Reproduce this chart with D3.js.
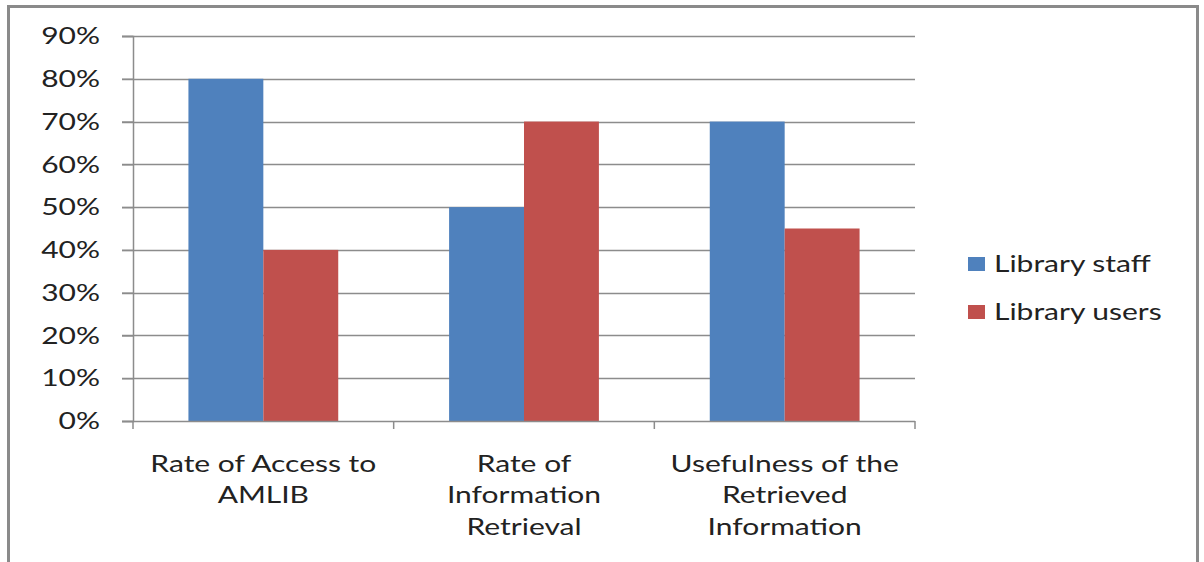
<!DOCTYPE html>
<html lang="en">
<head>
<meta charset="utf-8" />
<title>AMLIB chart</title>
<script src="https://cdn.jsdelivr.net/npm/d3@7/dist/d3.min.js"></script>
<style>
  body { margin: 0; background: #fff; }
</style>
</head>
<body>
<svg id="chart" width="1204" height="562"></svg>
<script>
// chart data
const categories = [
  ["Rate of Access to", "AMLIB"],
  ["Rate of", "Information", "Retrieval"],
  ["Usefulness of the", "Retrieved", "Information"]
];
const seriesNames = ["Library staff", "Library users"];
const staffValues = [0.80, 0.50, 0.70];
const userValues = [0.40, 0.70, 0.45];
const yTicks = [0, 0.1, 0.2, 0.3, 0.4, 0.5, 0.6, 0.7, 0.8, 0.9];

const colors = ["#4F81BD", "#C0504D"];
const font = "Lato, 'Open Sans', sans-serif";
const stretch = "scale(1.25,1)"; // the original text is drawn wide

const svg = d3.select("#chart").attr("font-family", font);

// outer frame
svg.append("rect")
  .attr("x", 8.5).attr("y", 6.5)
  .attr("width", 1189).attr("height", 570)
  .attr("fill", "#fff")
  .attr("stroke", "#8a8a8a")
  .attr("stroke-width", 3);

const margin = {top: 36, left: 133, right: 915, bottom: 421};

const y = d3.scaleLinear().domain([0, 0.9]).range([margin.bottom, margin.top]);
const x0 = d3.scaleBand()
  .domain(d3.range(categories.length))
  .range([margin.left, margin.right])
  .paddingInner(0).paddingOuter(0);
const x1 = d3.scaleBand()
  .domain([0, 1])
  .range([0, x0.bandwidth()])
  .paddingOuter(0.74).paddingInner(0);

// gridlines
svg.append("g")
  .selectAll("line")
  .data(yTicks.slice(1))
  .join("line")
    .attr("x1", margin.left - 11).attr("x2", margin.right)
    .attr("y1", d => Math.round(y(d)) + 0.5).attr("y2", d => Math.round(y(d)) + 0.5)
    .attr("stroke", "#8c8c8c").attr("stroke-width", 1.5);

// y axis
const yAxis = svg.append("g")
  .attr("transform", `translate(${margin.left},0)`)
  .call(d3.axisLeft(y).tickValues(yTicks).tickFormat(d3.format(".0%")).tickSize(11).tickPadding(22));
yAxis.select(".domain").attr("stroke", "#8c8c8c").attr("stroke-width", 1.5);
yAxis.selectAll(".tick line").attr("stroke", "#8c8c8c").attr("stroke-width", 1.5);
yAxis.selectAll(".tick text")
  .attr("x", 0)
  .attr("transform", `translate(-33,0) ${stretch}`)
  .attr("font-family", font).attr("font-size", "24px").attr("fill", "#222");

// bars
const rows = categories.map((c, i) => [staffValues[i], userValues[i]]);
const groups = svg.append("g")
  .selectAll("g")
  .data(rows)
  .join("g")
    .attr("transform", (d, i) => `translate(${x0(i)},0)`);
groups.selectAll("rect")
  .data(d => d)
  .join("rect")
    .attr("x", (d, j) => x1(j))
    .attr("y", d => y(d))
    .attr("width", x1.bandwidth())
    .attr("height", d => y(0) - y(d))
    .attr("fill", (d, j) => colors[j]);

// x axis
const xAxis = svg.append("g")
  .attr("transform", `translate(0,${margin.bottom})`);
xAxis.append("line")
  .attr("x1", margin.left - 11).attr("x2", margin.right)
  .attr("y1", 0.5).attr("y2", 0.5)
  .attr("stroke", "#8c8c8c").attr("stroke-width", 1.5);
xAxis.selectAll("line.tick")
  .data(d3.range(categories.length + 1))
  .join("line")
    .attr("class", "tick")
    .attr("x1", i => i < categories.length ? x0(i) : margin.right)
    .attr("x2", i => i < categories.length ? x0(i) : margin.right)
    .attr("y1", 0).attr("y2", 8)
    .attr("stroke", "#8c8c8c").attr("stroke-width", 1.5);

const labels = xAxis.selectAll("text")
  .data(categories)
  .join("text")
    .attr("text-anchor", "middle")
    .attr("font-size", "24px")
    .attr("fill", "#222")
    .attr("transform", (d, i) => `translate(${x0(i) + x0.bandwidth() / 2},51) ${stretch}`);
labels.selectAll("tspan")
  .data(d => d)
  .join("tspan")
    .attr("x", 0)
    .attr("y", (d, k) => k * 31.5)
    .text(d => d);

// legend
const legend = svg.append("g")
  .attr("transform", "translate(968,257)");
const items = legend.selectAll("g")
  .data(seriesNames)
  .join("g")
    .attr("transform", (d, i) => `translate(0,${i * 48})`);
items.append("rect")
  .attr("width", 17).attr("height", 14)
  .attr("fill", (d, i) => colors[i]);
items.append("text")
  .attr("transform", `translate(26,15) ${stretch}`)
  .attr("font-size", "24px")
  .attr("fill", "#222")
  .text(d => d);
</script>
</body>
</html>
